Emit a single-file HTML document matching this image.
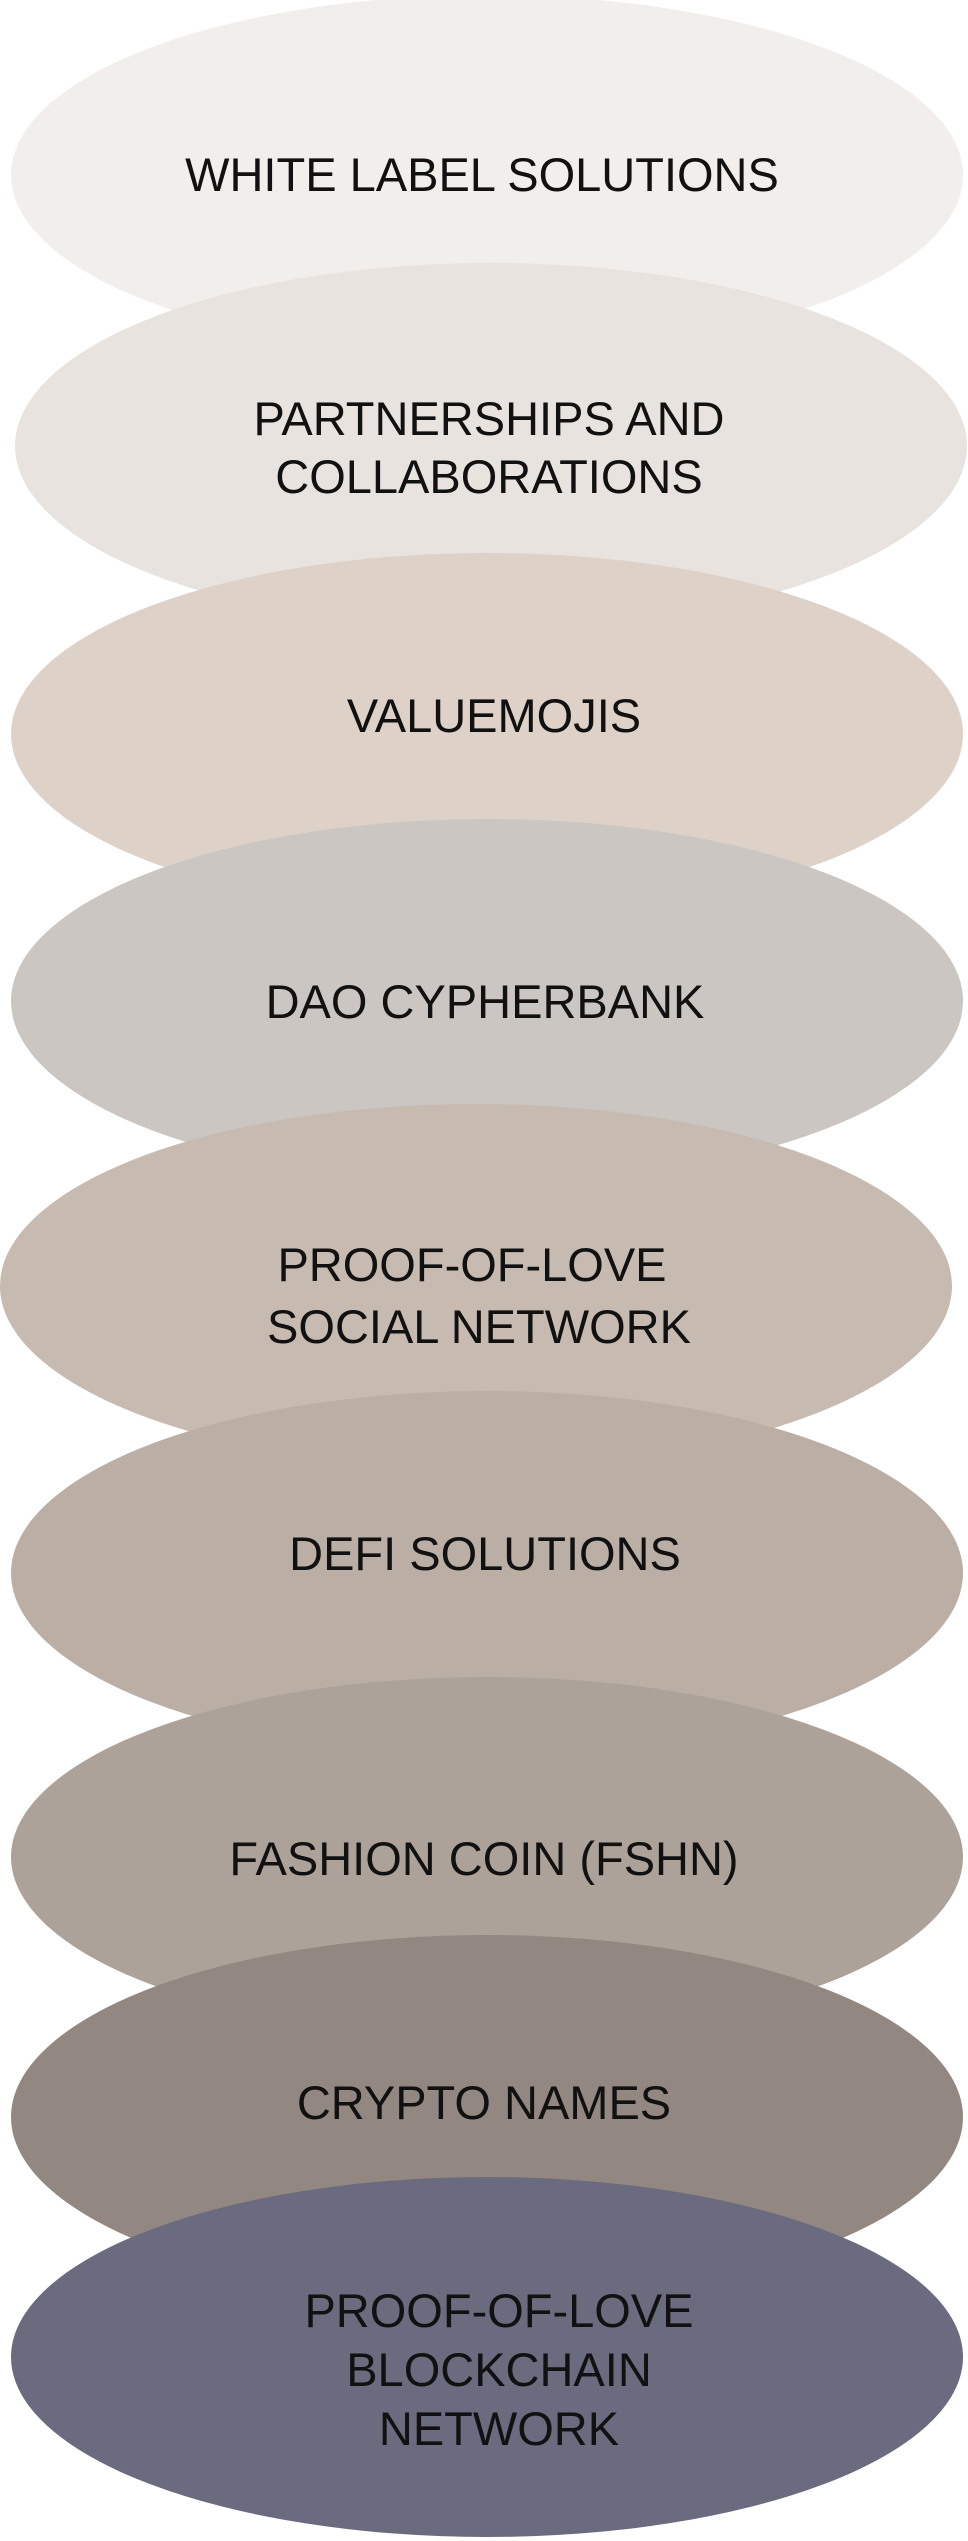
<!DOCTYPE html>
<html><head><meta charset="utf-8"><style>
html,body{margin:0;padding:0;background:#fff;}
svg{display:block;}
text{font-family:"Liberation Sans",Arial,sans-serif;font-size:47px;fill:#111;text-anchor:middle;}
</style></head><body>
<svg width="968" height="2541" viewBox="0 0 968 2541" xmlns="http://www.w3.org/2000/svg">
<ellipse cx="487" cy="175" rx="476" ry="180" fill="#f1eeeb"/>
<ellipse cx="491" cy="446" rx="476" ry="183" fill="#e8e3df"/>
<ellipse cx="487" cy="734" rx="476" ry="181" fill="#ddd1c8"/>
<ellipse cx="487" cy="1001" rx="476" ry="182" fill="#cbc6c2"/>
<ellipse cx="476" cy="1286" rx="476" ry="182" fill="#c7bab0"/>
<ellipse cx="487" cy="1573" rx="476" ry="182" fill="#bbafa5"/>
<ellipse cx="487" cy="1857" rx="476" ry="180" fill="#ada299"/>
<ellipse cx="487" cy="2117" rx="476" ry="182" fill="#928881"/>
<ellipse cx="487" cy="2357" rx="476" ry="180" fill="#6a6b7e"/>
<text x="482" y="191">WHITE LABEL SOLUTIONS</text>
<text x="489" y="435">PARTNERSHIPS AND</text>
<text x="489" y="493">COLLABORATIONS</text>
<text x="494" y="732">VALUEMOJIS</text>
<text x="485" y="1018">DAO CYPHERBANK</text>
<text x="472" y="1281">PROOF-OF-LOVE</text>
<text x="479" y="1343">SOCIAL NETWORK</text>
<text x="485" y="1570">DEFI SOLUTIONS</text>
<text x="484" y="1875">FASHION COIN (FSHN)</text>
<text x="484" y="2119">CRYPTO NAMES</text>
<text x="499" y="2327">PROOF-OF-LOVE</text>
<text x="499" y="2386">BLOCKCHAIN</text>
<text x="499" y="2445">NETWORK</text>
</svg>
</body></html>
